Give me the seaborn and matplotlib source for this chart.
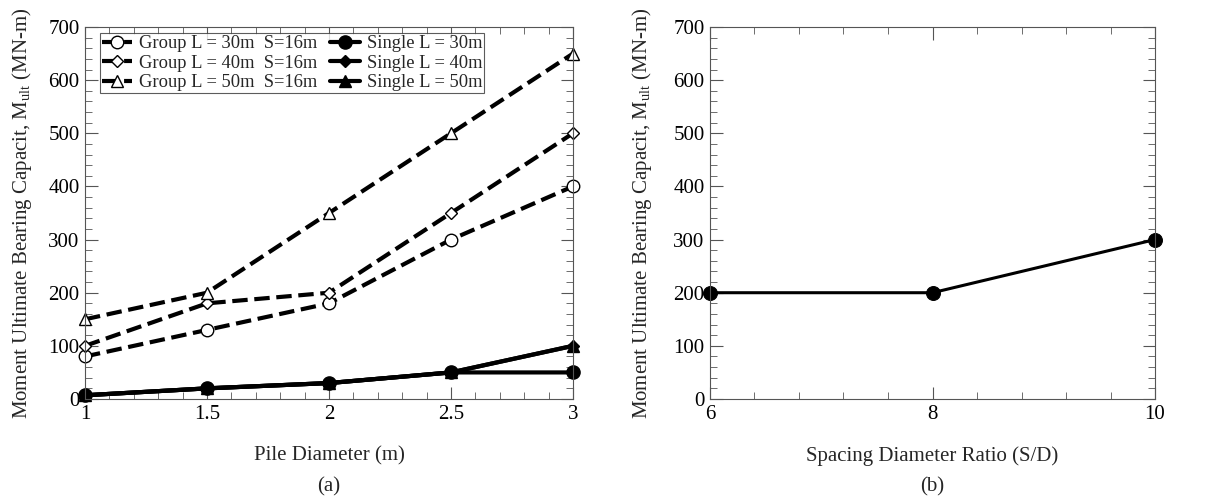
import matplotlib
matplotlib.use("Agg")
import matplotlib.pyplot as plt
import seaborn as sns
from matplotlib.ticker import MultipleLocator

sns.set_style("ticks")
plt.rcParams['font.family'] = ['Liberation Serif', 'DejaVu Serif']
plt.rcParams['mathtext.fontset'] = 'custom'
plt.rcParams['mathtext.rm'] = 'Liberation Serif'
plt.rcParams['mathtext.it'] = 'Liberation Serif:italic'

# ---- data (a)
diameter = [1, 1.5, 2, 2.5, 3]
diameter_labels = ['1', '1.5', '2', '2.5', '3']
group_L30 = [80, 130, 180, 300, 400]
group_L40 = [100, 180, 200, 350, 500]
group_L50 = [150, 200, 350, 500, 650]
single_L30 = [7, 20, 30, 50, 50]
single_L40 = [7, 20, 30, 50, 100]
single_L50 = [7, 20, 30, 50, 100]

# ---- data (b)
sd_ratio = [6, 8, 10]
moment_sd = [200, 200, 300]

fig = plt.figure(figsize=(12.05, 4.99), dpi=100)
ax1 = fig.add_axes([85/1205, 0.2004, 488/1205, 0.7455])
ax2 = fig.add_axes([710/1205, 0.2004, 445/1205, 0.7455])

series = [
    ("Group L = 30m  S=16m", group_L30, 'o', 'white', '--'),
    ("Group L = 40m  S=16m", group_L40, 'D', 'white', '--'),
    ("Group L = 50m  S=16m", group_L50, '^', 'white', '--'),
    ("Single L = 30m", single_L30, 'o', 'black', '-'),
    ("Single L = 40m", single_L40, 'D', 'black', '-'),
    ("Single L = 50m", single_L50, '^', 'black', '-'),
]
for label, vals, mk, fc, ls in series:
    if mk == 'o':
        ms = 9.5 if fc == 'black' else 9
    elif mk == 'D':
        ms = 6.5
    else:
        ms = 9
    kw = dict(dashes=(3.2, 2.0)) if ls == '--' else {}
    sns.lineplot(x=diameter, y=vals, ax=ax1, color='black', linestyle=ls,
                 linewidth=3.0, marker=mk, markersize=ms, markerfacecolor=fc,
                 markeredgecolor='black', markeredgewidth=1.0, label=label, **kw)

ax1.set_xlim(1, 3)
ax1.set_ylim(0, 700)
ax1.set_xticks(diameter)
ax1.set_xticklabels(diameter_labels)
ax1.xaxis.set_minor_locator(MultipleLocator(0.1))
ax1.yaxis.set_major_locator(MultipleLocator(100))
ax1.yaxis.set_minor_locator(MultipleLocator(20))
ax1.set_xlabel("Pile Diameter (m)", fontsize=15, labelpad=16)
ax1.set_ylabel(r"Moment Ultimate Bearing Capacit, M$_{\mathrm{ult}}$ (MN-m)", fontsize=15)
ax1.yaxis.set_label_coords(-0.105, 0.5)
leg = ax1.legend(ncol=2, loc='upper left', fontsize=13.3, frameon=True, fancybox=False,
                 edgecolor='#333333', handlelength=1.6, handletextpad=0.38,
                 columnspacing=0.7, borderpad=0.12, labelspacing=0.13,
                 borderaxespad=0.0, bbox_to_anchor=(0.031, 0.984))
leg.get_frame().set_linewidth(0.8)

sns.lineplot(x=sd_ratio, y=moment_sd, ax=ax2, color='black', linewidth=2.2,
             marker='o', markersize=10, markerfacecolor='black',
             markeredgecolor='black')
ax2.set_xlim(6, 10)
ax2.set_ylim(0, 700)
ax2.xaxis.set_major_locator(MultipleLocator(2))
ax2.xaxis.set_minor_locator(MultipleLocator(0.4))
ax2.yaxis.set_major_locator(MultipleLocator(100))
ax2.yaxis.set_minor_locator(MultipleLocator(20))
ax2.set_xlabel("Spacing Diameter Ratio (S/D)", fontsize=15, labelpad=16)
ax2.set_ylabel(r"Moment Ultimate Bearing Capacit, M$_{\mathrm{ult}}$ (MN-m)", fontsize=15)
ax2.yaxis.set_label_coords(-0.126, 0.5)

for ax in (ax1, ax2):
    for s in ax.spines.values():
        s.set_visible(True)
        s.set_color('#555555')
        s.set_linewidth(0.8)
    ax.tick_params(which='both', direction='in', top=True, right=True,
                   labelsize=15, colors='#555555', labelcolor='black')
    ax.tick_params(which='major', length=9, width=0.8, pad=4)
    ax.tick_params(which='minor', length=5, width=0.6)
    for l in ax.lines:
        l.set_clip_on(False)

fig.text((85 + 244) / 1205, 0.025, "(a)", ha='center', va='center', fontsize=15)
fig.text((710 + 222) / 1205, 0.025, "(b)", ha='center', va='center', fontsize=15)

fig.savefig("out.png", dpi=100, facecolor='white')
